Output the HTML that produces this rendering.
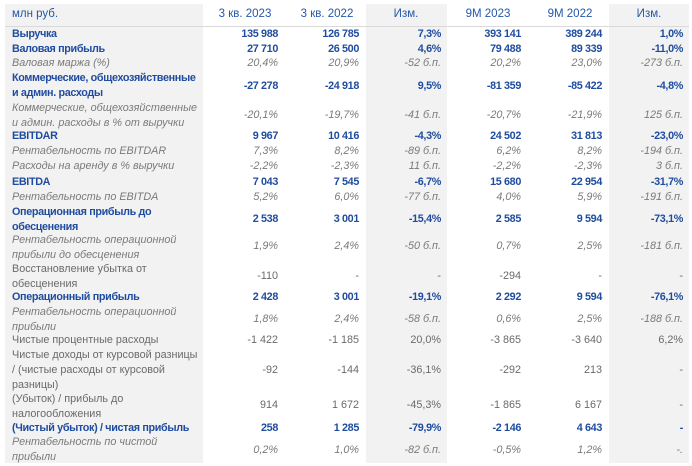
<!DOCTYPE html>
<html><head><meta charset="utf-8"><style>
body{margin:0;width:692px;height:466px;background:#fff;position:relative;overflow:hidden;font-family:"Liberation Sans","DejaVu Sans",sans-serif;font-size:10.8px;}
.g{position:absolute;background:#f2f2f2;top:4px;height:459px}
.t{position:absolute;line-height:15px;white-space:nowrap}
.v{position:absolute;line-height:15px;white-space:nowrap;text-align:right}
.b{color:#1f4c9e;font-weight:bold;letter-spacing:-0.35px}
.i{color:#7a7a7a;font-style:italic}
.n{color:#6a6a6a}
.h{color:#2458a8;position:absolute;top:7px;line-height:15px;text-align:center;width:80px;font-size:11.5px}
.c1{right:414px}.c2{right:333px}.c3{right:251px}.c4{right:171px}.c5{right:90px}.c6{right:9px}
</style></head><body>
<div class="g" style="left:5px;width:198px"></div>
<div class="g" style="left:366px;width:81px"></div>
<div class="g" style="left:609px;width:80px"></div>
<div style="position:absolute;left:5px;top:26px;width:684px;height:1px;background:#d9d9d9"></div>
<div class="t" style="left:12px;top:7px;color:#2458a8;font-size:11.5px">млн руб.</div>
<div class="h" style="left:205px">3 кв. 2023</div>
<div class="h" style="left:287px">3 кв. 2022</div>
<div class="h" style="left:366px">Изм.</div>
<div class="h" style="left:448px">9M 2023</div>
<div class="h" style="left:530px">9M 2022</div>
<div class="h" style="left:609px">Изм.</div>

<div class="t b" style="left:12px;top:27px">Выручка</div>
<div class="v b c1" style="top:27px">135 988</div><div class="v b c2" style="top:27px">126 785</div><div class="v b c3" style="top:27px">7,3%</div><div class="v b c4" style="top:27px">393 141</div><div class="v b c5" style="top:27px">389 244</div><div class="v b c6" style="top:27px">1,0%</div>

<div class="t b" style="left:12px;top:42px">Валовая прибыль</div>
<div class="v b c1" style="top:42px">27 710</div><div class="v b c2" style="top:42px">26 500</div><div class="v b c3" style="top:42px">4,6%</div><div class="v b c4" style="top:42px">79 488</div><div class="v b c5" style="top:42px">89 339</div><div class="v b c6" style="top:42px">-11,0%</div>

<div class="t i" style="left:12px;top:56px">Валовая маржа (%)</div>
<div class="v i c1" style="top:56px">20,4%</div><div class="v i c2" style="top:56px">20,9%</div><div class="v i c3" style="top:56px">-52 б.п.</div><div class="v i c4" style="top:56px">20,2%</div><div class="v i c5" style="top:56px">23,0%</div><div class="v i c6" style="top:56px">-273 б.п.</div>

<div class="t b" style="left:12px;top:71px">Коммерческие, общехозяйственные<br>и админ. расходы</div>
<div class="v b c1" style="top:79px">-27 278</div><div class="v b c2" style="top:79px">-24 918</div><div class="v b c3" style="top:79px">9,5%</div><div class="v b c4" style="top:79px">-81 359</div><div class="v b c5" style="top:79px">-85 422</div><div class="v b c6" style="top:79px">-4,8%</div>

<div class="t i" style="left:12px;top:101px">Коммерческие, общехозяйственные<br>и админ. расходы в % от выручки</div>
<div class="v i c1" style="top:108px">-20,1%</div><div class="v i c2" style="top:108px">-19,7%</div><div class="v i c3" style="top:108px">-41 б.п.</div><div class="v i c4" style="top:108px">-20,7%</div><div class="v i c5" style="top:108px">-21,9%</div><div class="v i c6" style="top:108px">125 б.п.</div>

<div class="t b" style="left:12px;top:129px">EBITDAR</div>
<div class="v b c1" style="top:129px">9 967</div><div class="v b c2" style="top:129px">10 416</div><div class="v b c3" style="top:129px">-4,3%</div><div class="v b c4" style="top:129px">24 502</div><div class="v b c5" style="top:129px">31 813</div><div class="v b c6" style="top:129px">-23,0%</div>

<div class="t i" style="left:12px;top:144px">Рентабельность по EBITDAR</div>
<div class="v i c1" style="top:144px">7,3%</div><div class="v i c2" style="top:144px">8,2%</div><div class="v i c3" style="top:144px">-89 б.п.</div><div class="v i c4" style="top:144px">6,2%</div><div class="v i c5" style="top:144px">8,2%</div><div class="v i c6" style="top:144px">-194 б.п.</div>

<div class="t i" style="left:12px;top:159px">Расходы на аренду в % выручки</div>
<div class="v i c1" style="top:159px">-2,2%</div><div class="v i c2" style="top:159px">-2,3%</div><div class="v i c3" style="top:159px">11 б.п.</div><div class="v i c4" style="top:159px">-2,2%</div><div class="v i c5" style="top:159px">-2,3%</div><div class="v i c6" style="top:159px">3 б.п.</div>

<div class="t b" style="left:12px;top:175px">EBITDA</div>
<div class="v b c1" style="top:175px">7 043</div><div class="v b c2" style="top:175px">7 545</div><div class="v b c3" style="top:175px">-6,7%</div><div class="v b c4" style="top:175px">15 680</div><div class="v b c5" style="top:175px">22 954</div><div class="v b c6" style="top:175px">-31,7%</div>

<div class="t i" style="left:12px;top:190px">Рентабельность по EBITDA</div>
<div class="v i c1" style="top:190px">5,2%</div><div class="v i c2" style="top:190px">6,0%</div><div class="v i c3" style="top:190px">-77 б.п.</div><div class="v i c4" style="top:190px">4,0%</div><div class="v i c5" style="top:190px">5,9%</div><div class="v i c6" style="top:190px">-191 б.п.</div>

<div class="t b" style="left:12px;top:205px">Операционная прибыль до<br>обесценения</div>
<div class="v b c1" style="top:212px">2 538</div><div class="v b c2" style="top:212px">3 001</div><div class="v b c3" style="top:212px">-15,4%</div><div class="v b c4" style="top:212px">2 585</div><div class="v b c5" style="top:212px">9 594</div><div class="v b c6" style="top:212px">-73,1%</div>

<div class="t i" style="left:12px;top:233px">Рентабельность операционной<br>прибыли до обесценения</div>
<div class="v i c1" style="top:239px">1,9%</div><div class="v i c2" style="top:239px">2,4%</div><div class="v i c3" style="top:239px">-50 б.п.</div><div class="v i c4" style="top:239px">0,7%</div><div class="v i c5" style="top:239px">2,5%</div><div class="v i c6" style="top:239px">-181 б.п.</div>

<div class="t n" style="left:12px;top:262px">Восстановление убытка от<br>обесценения</div>
<div class="v n c1" style="top:269px">-110</div><div class="v n c2" style="top:269px">-</div><div class="v n c3" style="top:269px">-</div><div class="v n c4" style="top:269px">-294</div><div class="v n c5" style="top:269px">-</div><div class="v n c6" style="top:269px">-</div>

<div class="t b" style="left:12px;top:290px">Операционный прибыль</div>
<div class="v b c1" style="top:290px">2 428</div><div class="v b c2" style="top:290px">3 001</div><div class="v b c3" style="top:290px">-19,1%</div><div class="v b c4" style="top:290px">2 292</div><div class="v b c5" style="top:290px">9 594</div><div class="v b c6" style="top:290px">-76,1%</div>

<div class="t i" style="left:12px;top:305px">Рентабельность операционной<br>прибыли</div>
<div class="v i c1" style="top:312px">1,8%</div><div class="v i c2" style="top:312px">2,4%</div><div class="v i c3" style="top:312px">-58 б.п.</div><div class="v i c4" style="top:312px">0,6%</div><div class="v i c5" style="top:312px">2,5%</div><div class="v i c6" style="top:312px">-188 б.п.</div>

<div class="t n" style="left:12px;top:333px">Чистые процентные расходы</div>
<div class="v n c1" style="top:333px">-1 422</div><div class="v n c2" style="top:333px">-1 185</div><div class="v n c3" style="top:333px">20,0%</div><div class="v n c4" style="top:333px">-3 865</div><div class="v n c5" style="top:333px">-3 640</div><div class="v n c6" style="top:333px">6,2%</div>

<div class="t n" style="left:12px;top:348px">Чистые доходы от курсовой разницы<br>/ (чистые расходы от курсовой<br>разницы)</div>
<div class="v n c1" style="top:363px">-92</div><div class="v n c2" style="top:363px">-144</div><div class="v n c3" style="top:363px">-36,1%</div><div class="v n c4" style="top:363px">-292</div><div class="v n c5" style="top:363px">213</div><div class="v n c6" style="top:363px">-</div>

<div class="t n" style="left:12px;top:392px">(Убыток) / прибыль до<br>налогообложения</div>
<div class="v n c1" style="top:398px">914</div><div class="v n c2" style="top:398px">1 672</div><div class="v n c3" style="top:398px">-45,3%</div><div class="v n c4" style="top:398px">-1 865</div><div class="v n c5" style="top:398px">6 167</div><div class="v n c6" style="top:398px">-</div>

<div class="t b" style="left:12px;top:421px">(Чистый убыток) / чистая прибыль</div>
<div class="v b c1" style="top:421px">258</div><div class="v b c2" style="top:421px">1 285</div><div class="v b c3" style="top:421px">-79,9%</div><div class="v b c4" style="top:421px">-2 146</div><div class="v b c5" style="top:421px">4 643</div><div class="v b c6" style="top:421px">-</div>

<div class="t i" style="left:12px;top:435px">Рентабельность по чистой<br>прибыли</div>
<div class="v i c1" style="top:443px">0,2%</div><div class="v i c2" style="top:443px">1,0%</div><div class="v i c3" style="top:443px">-82 б.п.</div><div class="v i c4" style="top:443px">-0,5%</div><div class="v i c5" style="top:443px">1,2%</div><div class="v i c6" style="top:443px">-.</div>
</body></html>
